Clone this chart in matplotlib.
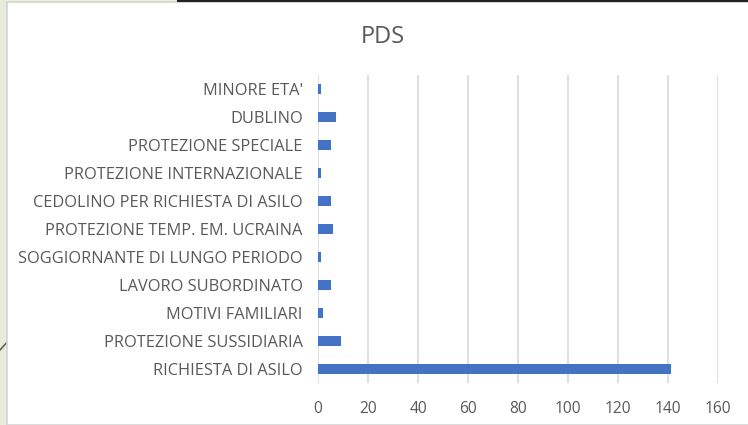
import matplotlib.pyplot as plt
from matplotlib.patches import Rectangle
from matplotlib.lines import Line2D

categorie = ["RICHIESTA DI ASILO", "PROTEZIONE SUSSIDIARIA", "MOTIVI FAMILIARI",
             "LAVORO SUBORDINATO", "SOGGIORNANTE DI LUNGO PERIODO",
             "PROTEZIONE TEMP. EM. UCRAINA", "CEDOLINO PER RICHIESTA DI ASILO",
             "PROTEZIONE INTERNAZIONALE", "PROTEZIONE SPECIALE", "DUBLINO", "MINORE ETA'"]
valori = [141, 9, 2, 5, 1, 6, 5, 1, 5, 7, 1]
ticks_x = [0, 20, 40, 60, 80, 100, 120, 140, 160]

plt.rcParams['font.family'] = ['Open Sans', 'DejaVu Sans']
testo = '#595959'

W, H = 748, 425
fig = plt.figure(figsize=(W / 100, H / 100), dpi=100)
fig.patch.set_facecolor('#e8ecda')

# chart area box (like an Excel chart object)
fig.lines.append(Line2D([0, 18 / W], [1 - 350 / H, 1 - 330 / H], transform=fig.transFigure,
                        color='#6b6550', linewidth=1.2, zorder=-3))
fig.patches.append(Rectangle((7 / W, 0), 1, 1 - 2 / H, transform=fig.transFigure,
                             facecolor='white', edgecolor='#d4d4d4', linewidth=1.2,
                             zorder=-2))
fig.lines.append(Line2D([178 / W, 1], [1 - 1 / H, 1 - 1 / H], transform=fig.transFigure,
                        color='#222222', linewidth=1.5, zorder=-1))

ax = fig.add_axes([318 / W, 1 - 383 / H, 400 / W, 308 / H])
ax.set_facecolor('none')
ax.barh(range(len(categorie)), valori, height=0.36, color='#4472c4', zorder=3)
ax.set_xlim(0, 160)
ax.set_ylim(-0.5, len(categorie) - 0.5)
ax.set_xticks(ticks_x)
ax.set_yticks(range(len(categorie)))
ax.set_yticklabels(categorie)
ax.grid(axis='x', color='#d9d9d9', linewidth=1.2, zorder=0)
for s in ax.spines.values():
    s.set_visible(False)
ax.tick_params(axis='both', length=0, colors=testo)
ax.tick_params(axis='y', pad=11, labelsize=11.8)
ax.tick_params(axis='x', pad=13, labelsize=11.2)

fig.text(383 / W, 1 - 37 / H, 'PDS', ha='center', va='center', fontsize=17, color=testo)

fig.savefig('out.png', dpi=100)
